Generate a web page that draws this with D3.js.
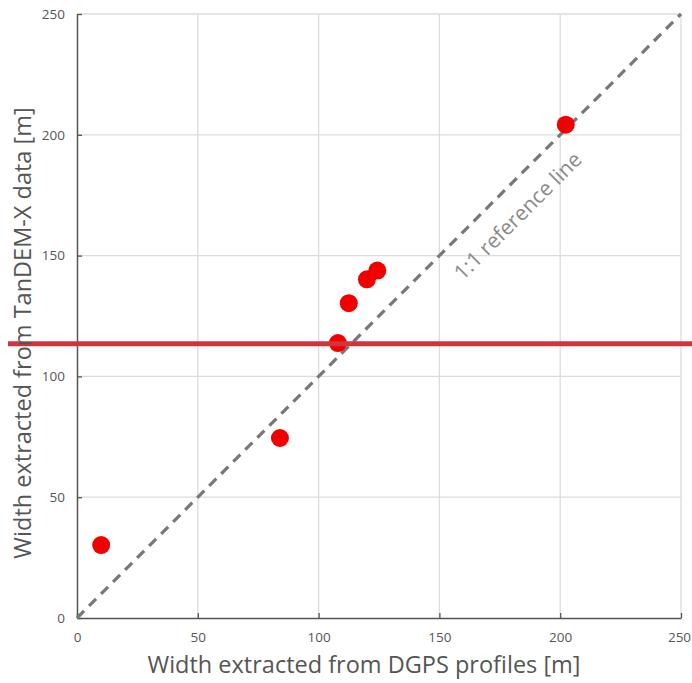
<!DOCTYPE html>
<html><head><meta charset="utf-8">
<script src="https://cdn.jsdelivr.net/npm/d3@7"></script>
<style>body{margin:0;background:#fff}svg{display:block}</style>
</head><body>
<svg id="c" width="692" height="683"></svg>
<script>
const dgps = [10, 84, 108, 112.5, 120, 124.3, 202.3];
const tandem = [30.2, 74.5, 113.8, 130.3, 140.2, 143.8, 204.2];
const ticks = [0, 50, 100, 150, 200, 250];
const highlightY = [113.5];
const refLine = [0, 250];
const xTitle = "Width extracted from DGPS profiles [m]";
const yTitle = "Width extracted from TanDEM-X data [m]";
const refLabel = "1:1 reference line";

const svg = d3.select("#c");
const x = d3.scaleLinear().domain([0, 250]).range([77, 681]);
const y = d3.scaleLinear().domain([0, 250]).range([618, 14]);
const font = "'Open Sans', sans-serif";

// grid
const g = svg.append("g");
g.selectAll("line.gx").data(ticks.slice(1)).join("line")
  .attr("x1", d => x(d)).attr("x2", d => x(d)).attr("y1", y(0)).attr("y2", y(250))
  .attr("stroke", "#dcdcdc").attr("stroke-width", 1.3);
g.selectAll("line.gy").data(ticks.slice(1)).join("line")
  .attr("y1", d => y(d)).attr("y2", d => y(d)).attr("x1", x(0)).attr("x2", x(250))
  .attr("stroke", "#dcdcdc").attr("stroke-width", 1.3);

// axes
const xAxis = d3.axisBottom(x).tickValues(ticks).tickSizeInner(-5).tickSizeOuter(0).tickPadding(14);
const yAxis = d3.axisLeft(y).tickValues(ticks).tickSizeInner(-5).tickSizeOuter(0).tickPadding(12);
const gx = svg.append("g").attr("transform", `translate(0,${y(0)})`).call(xAxis);
const gy = svg.append("g").attr("transform", `translate(${x(0)},0)`).call(yAxis);
[gx, gy].forEach(a => {
  a.select(".domain").attr("stroke", "#555").attr("stroke-width", 1.5);
  a.selectAll(".tick line").attr("stroke", "#555").attr("stroke-width", 1.3);
  a.selectAll(".tick text").attr("fill", "#555").style("font-family", font).style("font-size", "13.5px");
});
gx.selectAll(".tick text").filter(d => d === 250).attr("dx", "-2");

// 1:1 reference line
svg.append("line")
  .attr("x1", x(refLine[0])).attr("y1", y(refLine[0]))
  .attr("x2", x(refLine[1])).attr("y2", y(refLine[1]))
  .attr("stroke", "#777").attr("stroke-width", 3.2)
  .attr("stroke-dasharray", "10,7");

// label
svg.append("text")
  .attr("transform", `translate(${x(184.6)},${y(164.3)}) rotate(-45)`)
  .attr("text-anchor", "middle")
  .attr("fill", "#8a8a8a")
  .style("font-family", font).style("font-size", "21px")
  .text(refLabel);

// points
svg.selectAll("circle.p").data(dgps.map((d, i) => [d, tandem[i]])).join("circle")
  .attr("cx", d => x(d[0])).attr("cy", d => y(d[1])).attr("r", 9)
  .attr("fill", "#f00000");

// red highlight line
svg.selectAll("line.h").data(highlightY).join("line")
  .attr("x1", 8).attr("x2", 692)
  .attr("y1", d => y(d)).attr("y2", d => y(d))
  .attr("stroke", "#d3343c").attr("stroke-width", 5);

// titles
svg.append("text").attr("x", 364).attr("y", 673).attr("text-anchor", "middle")
  .attr("fill", "#555").style("font-family", font).style("font-size", "23.5px").text(xTitle);
svg.append("text").attr("transform", `translate(31,333) rotate(-90)`).attr("text-anchor", "middle")
  .attr("fill", "#555").style("font-family", font).style("font-size", "23.5px").text(yTitle);
</script>
</body></html>
